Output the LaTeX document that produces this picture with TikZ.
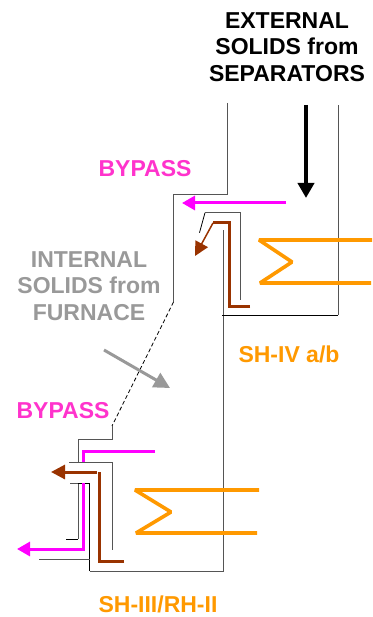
\documentclass[tikz,border=0pt]{standalone}
\usepackage{fontspec}
\setmainfont{Liberation Sans}
\usetikzlibrary{arrows.meta}
\definecolor{mag}{HTML}{FF00FF}
\definecolor{magtxt}{HTML}{FF33CC}
\definecolor{org}{HTML}{FF9900}
\definecolor{brn}{HTML}{993300}
\definecolor{gry}{HTML}{999999}
\definecolor{wall}{HTML}{555555}
\tikzset{
  wallline/.style={draw=wall,line width=0.9pt},
  thinline/.style={draw=black,line width=0.8pt},
  label/.style={font=\bfseries\fontsize{23}{26.5}\selectfont,align=center,inner sep=0pt},
  magarrow/.style={draw=mag,line width=3pt,-{Triangle[length=13pt,width=14pt]}},
  magline/.style={draw=mag,line width=3pt},
  brnline/.style={draw=brn,line width=3pt},
  orgline/.style={draw=org,line width=3.6pt,line join=bevel},
}
\begin{document}
\begin{tikzpicture}[x=1pt,y=-1pt,line join=miter]
\useasboundingbox (0,0) rectangle (372,617);
% walls
\draw[wallline] (227,103) -- (227,194) -- (173.5,194) -- (173.5,302);
\draw[thinline,dashed,dash pattern=on 4pt off 2.5pt] (173.5,302) -- (112,426);
\draw[wallline] (112,426) -- (112,439.5) -- (78,439.5) -- (78,463);
\draw[wallline] (69,462) -- (112,462) -- (112,550);
\draw[wallline] (70,483) -- (78,483) -- (78,539);
\draw[thinline] (78,539) -- (66,539);
\draw[thinline] (78,483) -- (89.5,483) -- (89.5,571);
\draw[wallline] (39,559) -- (89.5,559);
\draw[wallline] (89.5,571) -- (223,571) -- (223,230);
\draw[thinline] (222,315) -- (338,315);
\draw[wallline] (338,315) -- (338,105);
\draw[thinline] (199.5,232.7) -- (205,212.7);
\draw[wallline] (205,212.7) -- (240,212.7) -- (240,300);
% orange coils
\draw[orgline] (372,240) -- (259,240) -- (292,262) -- (260,283) -- (371,283);
\draw[orgline] (259,490) -- (135,490) -- (171,512) -- (136,533) -- (257,533);
% arrows
\draw[draw=black,line width=4pt,-{Triangle[length=15pt,width=16pt]}] (306,105) -- (306,198);
\draw[magarrow] (286,203) -- (182,203);
\draw[magline] (155,451) -- (83.5,451) -- (83.5,462);
\draw[magarrow] (83.5,483) -- (83.5,549) -- (17,549);
\draw[brnline] (250,306) -- (229,306) -- (229,223) -- (213,223);
\draw[draw=brn,line width=1.5pt,-{Triangle[length=14pt,width=14pt]}] (213,223) -- (195,256);
\draw[brnline] (124,561) -- (99.5,561) -- (99.5,472);
\draw[draw=brn,line width=3pt,-{Triangle[length=14pt,width=14pt]}] (97,472) -- (51,472);
\draw[draw=gry,line width=3pt,-{Triangle[length=16pt,width=16pt]}] (104,350) -- (170,388);
% labels
\node[label,text=black] (ext) at (287,47) {EXTERNAL\\SOLIDS from\\SEPARATORS};
\node[label,text=magtxt] (bp1) at (145,169) {BYPASS};
\node[label,text=gry] (int) at (89,286) {INTERNAL\\SOLIDS from\\FURNACE};
\node[label,text=magtxt] (bp2) at (63,411) {BYPASS};
\node[label,text=org] (sh4) at (289,354) {SH-IV a/b};
\node[label,text=org] (sh3) at (158,604.5) {SH-III/RH-II};
\end{tikzpicture}
\end{document}
